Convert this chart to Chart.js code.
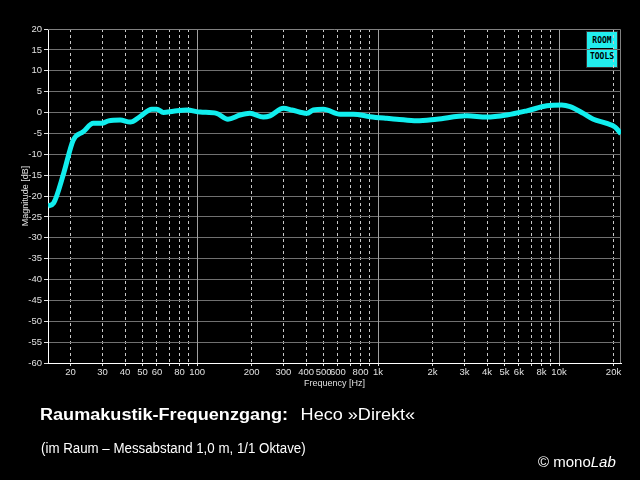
<!DOCTYPE html>
<html><head><meta charset="utf-8">
<script src="https://cdn.jsdelivr.net/npm/chart.js@4/dist/chart.umd.min.js"></script>
<style>
html,body{margin:0;padding:0;background:#000;width:640px;height:480px;overflow:hidden}
#wrap{position:relative;width:640px;height:480px}
#c{position:absolute;left:0;top:0;z-index:2}
.t{position:absolute;color:#fff;font-family:Arial,"Liberation Sans",sans-serif;white-space:nowrap;z-index:3}
#logo{position:absolute;left:586px;top:31px;width:30px;height:35px;background:#22eeee;border:1px solid #333;z-index:1;
 font-family:"DejaVu Sans Mono",monospace;font-weight:bold;font-size:8px;color:#000;text-align:center;line-height:9px}
#logo .a{margin-top:4px;letter-spacing:0px}
#logo .l{height:1px;background:#000;margin:3px 3px 3px 3px}
</style></head><body><div id="wrap">
<div id="logo"><div class="a">ROOM</div><div class="l"></div><div>TOOLS</div></div>
<canvas id="c" width="640" height="480"></canvas>
<div class="t" style="left:40px;top:406px;font-size:16px;font-weight:bold;transform:scaleX(1.13);transform-origin:0 0">Raumakustik-Frequenzgang:<span style="font-weight:normal;margin-left:11px">Heco »Direkt«</span></div>
<div class="t" style="left:41px;top:440px;font-size:14px;transform:scaleX(0.95);transform-origin:0 0">(im Raum – Messabstand 1,0 m, 1/1 Oktave)</div>
<div class="t" style="left:538px;top:453px;font-size:15px">© mono<i>Lab</i></div>
</div>
<script>
const freqs = [15, 16.1, 18.3, 20.7, 23.5, 26.7, 29.7, 32.4, 37.6, 42.7, 48.4, 56.2, 59.9, 65.1, 74, 87.7, 104, 128, 148, 173, 196, 232, 253, 300, 334, 404, 439, 499, 617, 731, 903, 1117, 1268, 1636, 2110, 3090, 3990, 5140, 6640, 8550, 10350, 11510, 13620, 15480, 18360, 20420, 22000];
const magnitudes = [-22.4, -21.7, -14.6, -6.6, -4.6, -2.6, -2.6, -2.0, -1.8, -2.3, -1.0, 0.8, 0.8, 0.0, 0.3, 0.6, 0.1, -0.2, -1.6, -0.6, -0.2, -1.1, -0.8, 1.0, 0.6, -0.2, 0.6, 0.8, -0.4, -0.4, -1.0, -1.4, -1.6, -2.0, -1.6, -0.8, -1.1, -0.6, 0.4, 1.6, 1.8, 1.4, -0.2, -1.6, -2.6, -3.5, -5.1];
const xTickValues = [20,30,40,50,60,70,80,90,100,200,300,400,500,600,700,800,900,1000,2000,3000,4000,5000,6000,7000,8000,9000,10000,20000];
const xTickLabels = ['20','30','40','50','60','','80','','100','200','300','400','500','600','','800','','1k','2k','3k','4k','5k','6k','','8k','','10k','20k'];
const decadeLines = [100, 1000, 10000];

const tickFont = 'Arial, "Liberation Sans", sans-serif';

const gridDeco = {
  id: 'gridDeco',
  beforeDatasetsDraw(chart) {
    const {ctx, chartArea: a, scales: {x}} = chart;
    ctx.save();
    ctx.strokeStyle = '#a0a0a0';
    ctx.lineWidth = 1;
    decadeLines.forEach(v => {
      const px = Math.round(x.getPixelForValue(v)) + 0.5;
      ctx.beginPath(); ctx.moveTo(px, a.top); ctx.lineTo(px, a.bottom); ctx.stroke();
    });
    ctx.strokeStyle = '#808080';
    ctx.beginPath();
    ctx.moveTo(a.left, a.top + 0.5); ctx.lineTo(a.right - 0.5, a.top + 0.5); ctx.lineTo(a.right - 0.5, a.bottom);
    ctx.stroke();
    ctx.restore();
  }
};

new Chart(document.getElementById('c'), {
  type: 'line',
  data: {
    datasets: [{
      data: freqs.map((f, i) => ({x: f, y: magnitudes[i]})),
      borderColor: '#11eeee',
      borderWidth: 5,
      pointRadius: 0,
      tension: 0.35,
      cubicInterpolationMode: 'monotone',
      fill: false
    }]
  },
  plugins: [gridDeco],
  options: {
    responsive: false,
    animation: false,
    layout: {padding: {left: 0, top: 29, right: 19, bottom: 91}},
    plugins: {legend: {display: false}, tooltip: {enabled: false}},
    scales: {
      x: {
        type: 'logarithmic',
        min: 15, max: 22000,
        afterBuildTicks: s => { s.ticks = xTickValues.map(v => ({value: v})); },
        afterFit: s => { s.height = 26; },
        ticks: {
          autoSkip: false, maxRotation: 0, color: '#e0e0e0', padding: 1,
          font: {family: tickFont, size: 9.5},
          callback: (v, i) => xTickLabels[i]
        },
        grid: {
          color: c => decadeLines.includes(c.tick && c.tick.value) ? 'rgba(0,0,0,0)' : '#c8c8c8',
          tickColor: '#e0e0e0', tickLength: 3, lineWidth: 1
        },
        border: {color: '#ffffff', width: 1, dash: [3, 3]},
        title: {display: true, text: 'Frequency [Hz]', color: '#e0e0e0', padding: {top: 0, bottom: 0},
          font: {family: tickFont, size: 9}}
      },
      y: {
        min: -60, max: 20,
        afterFit: s => { s.width = 48; },
        ticks: {
          stepSize: 2.5, color: '#e0e0e0', padding: 2,
          font: {family: tickFont, size: 9.5},
          callback: v => (v % 5 === 0 ? String(v) : '')
        },
        grid: {
          color: c => (c.tick && c.tick.value % 5 === 0 && c.tick.value > -60 && c.tick.value < 20) ? '#707070' : 'rgba(0,0,0,0)',
          tickColor: '#e0e0e0', tickLength: 4, lineWidth: 1
        },
        border: {color: '#ffffff', width: 1},
        title: {display: true, text: 'Magnitude [dB]', color: '#e0e0e0', padding: {top: 20, bottom: 0},
          font: {family: tickFont, size: 9}}
      }
    }
  }
});
</script>
</body></html>
